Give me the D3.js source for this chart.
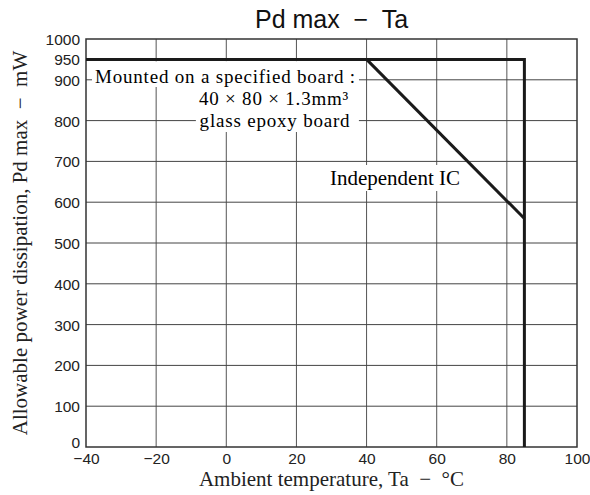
<!DOCTYPE html>
<html>
<head>
<meta charset="utf-8">
<script src="https://cdn.jsdelivr.net/npm/d3@7"></script>
<style>
  body { margin: 0; background: #fff; }
  .sans { font-family: "Liberation Sans", Arial, sans-serif; }
  .serif { font-family: "Liberation Serif", "Times New Roman", serif; }
</style>
</head>
<body>
<div class="canvas"></div>
<script>
// data
const xTicks = [-40, -20, 0, 20, 40, 60, 80, 100]
const yTicks = [0, 100, 200, 300, 400, 500, 600, 700, 800, 900, 950, 1000]
const yGrid = [100, 200, 300, 400, 500, 600, 700, 800, 900]
// board-mounted curve: flat, then vertical drop at 85 degC
const boardTa = [-40, 85, 85]
const boardPd = [950, 950, 0]
// independent IC derating line
const icTa = [40, 85]
const icPd = [950, 560]
const boardNote = ['Mounted on a specified board :', '40 \u00d7 80 \u00d7 1.3mm\u00b3', 'glass epoxy board']

const width = 590
const height = 495
const margin = { top: 39, right: 13, bottom: 48, left: 86 }
const graphWidth = width - margin.left - margin.right
const graphHeight = height - margin.top - margin.bottom
const labelSize = 21
const noteSize = 19

const svg = d3.select('.canvas')
    .append('svg')
    .attr('width', width)
    .attr('height', height)

const graph = svg.append('g')
    .attr('transform', `translate(${margin.left}, ${margin.top})`)

// scales
const x = d3.scaleLinear().domain([-40, 100]).range([0, graphWidth])
const y = d3.scaleLinear().domain([0, 1000]).range([graphHeight, 0])

// grid
const grid = graph.append('g')
grid.selectAll('.vgrid')
    .data(xTicks.slice(1, -1))
    .enter().append('line')
    .attr('x1', d => x(d)).attr('x2', d => x(d))
    .attr('y1', 0).attr('y2', graphHeight)
    .attr('stroke', '#555').attr('stroke-width', 1)
grid.selectAll('.hgrid')
    .data(yGrid)
    .enter().append('line')
    .attr('x1', 0).attr('x2', graphWidth)
    .attr('y1', d => y(d)).attr('y2', d => y(d))
    .attr('stroke', '#444').attr('stroke-width', 1)

// frame
graph.append('rect')
    .attr('width', graphWidth).attr('height', graphHeight)
    .attr('fill', 'none').attr('stroke', '#333').attr('stroke-width', 1.5)

// axes (labels only, frame draws the lines)
const xAxis = d3.axisBottom(x).tickValues(xTicks).tickSize(0).tickPadding(6)
    .tickFormat(d => d < 0 ? '\u2212' + Math.abs(d) : d)
const yAxis = d3.axisLeft(y).tickValues(yTicks).tickSize(0).tickPadding(6)
    .tickFormat(d => d)

const xAxisGroup = graph.append('g')
    .attr('transform', `translate(0, ${graphHeight})`)
    .call(xAxis)
const yAxisGroup = graph.append('g').call(yAxis)

;[xAxisGroup, yAxisGroup].forEach(g => {
    g.select('.domain').remove()
    g.selectAll('text')
        .attr('class', 'sans')
        .attr('font-size', 15.5)
        .attr('fill', '#222')
})
xAxisGroup.selectAll('text').attr('dy', '0.72em')
yAxisGroup.selectAll('text').attr('dy', '0.36em')
// the zero label sits up off the corner
yAxisGroup.selectAll('text').filter(d => d === 0).attr('y', -5)

// annotations with white backing, they knock out the grid
const notes = graph.append('g')
const maskG = notes.append('g')
const textG = notes.append('g')

// first line left aligned, the other two centred
const noteX = [9, 188, 189]
const noteY = [44, 66, 88]
const noteAnchor = ['start', 'middle', 'middle']
const noteLines = textG.selectAll('.note')
    .data(boardNote)
    .enter().append('text')
    .attr('class', 'serif')
    .attr('font-size', noteSize)
    .attr('letter-spacing', 0.8)
    .attr('x', (d, i) => noteX[i])
    .attr('y', (d, i) => noteY[i])
    .attr('text-anchor', (d, i) => noteAnchor[i])
    .text(d => d)

const icLabel = textG.append('text')
    .attr('class', 'serif').attr('font-size', labelSize)
    .attr('x', 309).attr('y', 146).attr('text-anchor', 'middle')
    .text('Independent IC')

const bb = noteLines.nodes().map(n => n.getBBox())
const bIc = icLabel.node().getBBox()
const maskRight = d3.max(bb, b => b.x + b.width) + 3
const maskTop = y(950) + 2
maskG.append('rect')
    .attr('x', bb[0].x - 3).attr('y', maskTop)
    .attr('width', maskRight - bb[0].x + 3).attr('height', bb[0].y + bb[0].height - maskTop)
    .attr('fill', '#fff')
const left23 = Math.min(bb[1].x, bb[2].x) - 3
maskG.append('rect')
    .attr('x', left23).attr('y', maskTop)
    .attr('width', maskRight - left23).attr('height', bb[2].y + bb[2].height + 1 - maskTop)
    .attr('fill', '#fff')
maskG.append('rect')
    .attr('x', bIc.x - 3).attr('y', bIc.y - 1)
    .attr('width', bIc.width + 6).attr('height', bIc.height + 2)
    .attr('fill', '#fff')

// data lines
const line = d3.line().x(d => x(d[0])).y(d => y(d[1]))
graph.append('path')
    .datum(boardTa.map((t, i) => [t, boardPd[i]]))
    .attr('d', line)
    .attr('fill', 'none').attr('stroke', '#1a1a1a').attr('stroke-width', 3)
    .attr('stroke-linejoin', 'miter')
graph.append('path')
    .datum(icTa.map((t, i) => [t, icPd[i]]))
    .attr('d', line)
    .attr('fill', 'none').attr('stroke', '#1a1a1a').attr('stroke-width', 3)

// titles
svg.append('text')
    .attr('class', 'sans').attr('font-size', 25)
    .attr('x', margin.left + graphWidth / 2).attr('y', 28)
    .attr('text-anchor', 'middle').attr('fill', '#111')
    .attr('xml:space', 'preserve')
    .text('Pd max  \u2212  Ta')

svg.append('text')
    .attr('class', 'serif').attr('font-size', labelSize)
    .attr('x', margin.left + graphWidth / 2).attr('y', 486)
    .attr('text-anchor', 'middle').attr('fill', '#222')
    .attr('xml:space', 'preserve')
    .text('Ambient temperature, Ta  \u2212  \u00b0C')

svg.append('text')
    .attr('class', 'serif').attr('font-size', labelSize)
    .attr('transform', `translate(27, 243) rotate(-90)`)
    .attr('text-anchor', 'middle').attr('fill', '#222')
    .attr('xml:space', 'preserve')
    .text('Allowable power dissipation, Pd max  \u2212  mW')
</script>
</body>
</html>
